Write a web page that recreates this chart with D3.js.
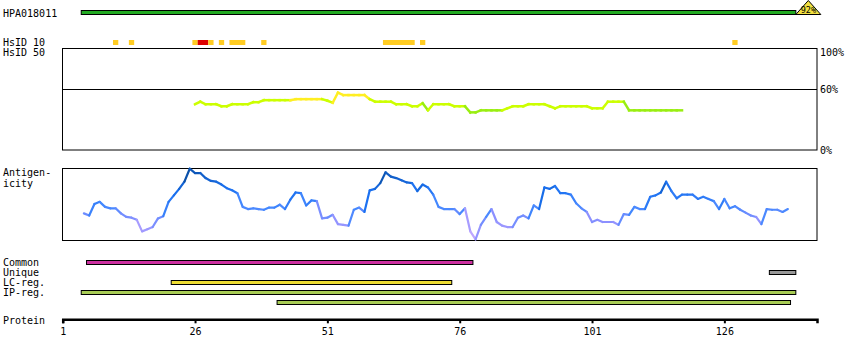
<!DOCTYPE html>
<html>
<head>
<meta charset="utf-8">
<script src="https://cdn.jsdelivr.net/npm/d3@7"></script>
<style>
  body { margin: 0; background: #fff; }
  text { font-family: "DejaVu Sans Mono", monospace; font-size: 10px; fill: #000; }
</style>
</head>
<body>
<svg id="chart" width="850" height="360"></svg>
<script>
// protein length and axis ticks
const proteinLength = 143;
const axisTicks = [1, 26, 51, 76, 101, 126];

// antibody target bar (residue span) and coverage
const antibodyName = "HPA018011";
const antibodySpan = [4.5, 139.5];
const antibodyCoverage = "92%";

// HsID 10 hits: [first residue, last residue, kind]
const hsid10Hits = [
    [11, 11, "low"], [14, 14, "low"], [26, 26, "low"], [27, 28, "high"],
    [29, 29, "low"], [31, 31, "low"], [33, 35, "low"], [39, 39, "low"],
    [62, 67, "low"], [69, 69, "low"], [128, 128, "low"]
];

// identity (%) per residue, starting at residue 26
const identityStart = 26;
const identityValues = [
    45, 47.5, 45, 45, 45, 43, 43, 45, 45, 45, 45,
    47, 47, 49, 49, 49, 49, 49, 49, 50, 50, 50, 50, 50, 50,
    48.5, 46.5, 56.4, 54, 54, 54, 54, 54, 50, 47.5, 47.5, 47.5, 47.5, 45, 45, 45,
    43, 43, 46, 39, 45, 45, 45, 45, 43, 43, 43, 37, 37, 39, 39, 39, 39, 39,
    41, 43, 43, 43, 45, 45, 45, 45, 43, 41, 43, 43, 43, 43, 43, 43, 41, 41, 41, 47.5, 47.5, 47.5, 47.5,
    39, 39, 39, 39, 39, 39, 39, 39, 39, 39, 39
];
const identityTicks = [0, 60, 100];

// antigenicity score (0-100) per residue, starting at residue 5
const antigenStart = 5;
const antigenValues = [
    37, 34, 50, 53, 46, 44, 44, 37, 32, 31, 28, 12, 15, 18, 30, 33, 53, 62, 71, 81,
    99, 93, 93, 86, 82, 81, 77, 72, 69, 65, 46, 43, 44,
    43, 42, 45, 45, 49, 43, 56, 66, 65, 48, 55, 54, 30, 31, 35, 22, 21, 20, 42, 45,
    39, 69, 71, 79, 94, 88, 86, 83, 80, 79, 68, 77, 73, 63, 46, 43,
    43, 43, 36, 44, 12, 1, 21, 32, 43, 25, 20, 18, 18, 31, 34, 30, 48, 43, 73, 71,
    75, 65, 65, 63, 51, 44, 39, 25, 28, 25, 25, 25, 21, 36, 35,
    46, 43, 43, 60, 62, 66, 81, 68, 58, 63, 63, 63, 57, 60, 57, 54, 43, 57, 44, 47,
    42, 38, 34, 32, 22, 43, 42, 42, 39, 43
];

// region tracks: label and spans
const trackLabels = ["Common", "Unique", "LC-reg.", "IP-reg."];
const trackSpans = [
    ["Common", 5.5, 78.5],
    ["Unique", 134.5, 139.5],
    ["LC-reg.", 21.5, 74.5],
    ["IP-reg.", 4.5, 139.5],
    ["IP-reg.2", 41.5, 138.5]
];

const svg = d3.select("#chart");
const x = d3.scaleLinear().domain([1, proteinLength + 0.5]).range([62.7, 817]);

drawAntibody();
drawHsid();
drawIdentity();
drawAntigenicity();
drawTracks();
drawProteinAxis();

function drawAntibody() {
    svg.append("text").attr("x", 3).attr("y", 16.5).text(antibodyName);
    svg.append("rect")
        .attr("x", x(antibodySpan[0])).attr("y", 10.5)
        .attr("width", x(antibodySpan[1]) - x(antibodySpan[0])).attr("height", 4)
        .attr("fill", "#22aa22").attr("stroke", "#000").attr("stroke-width", 1);
    const tx = x(antibodySpan[1]);
    svg.append("path")
        .attr("d", `M${tx},14.5L${tx + 12.5},0.5L${tx + 25},14.5Z`)
        .attr("fill", "#f2e040").attr("stroke", "#000").attr("stroke-width", 1);
    svg.append("text").attr("x", tx + 12.5).attr("y", 12.7)
        .attr("text-anchor", "middle").style("font-size", "8.5px")
        .text(antibodyCoverage);
}

function drawHsid() {
    svg.append("text").attr("x", 3).attr("y", 46).text("HsID 10");
    svg.append("text").attr("x", 3).attr("y", 56.3).text("HsID 50");
    svg.selectAll(".hit")
        .data(hsid10Hits)
        .enter()
        .append("rect")
        .attr("x", d => x(d[0] - 0.5))
        .attr("y", 40)
        .attr("width", d => x(d[1] + 0.5) - x(d[0] - 0.5))
        .attr("height", 5)
        .attr("fill", d => d[2] === "high" ? "#dd0000" : "#ffcc22");
}

function drawIdentity() {
    const y = d3.scaleLinear().domain([0, 100]).range([150, 48.3]);
    const g = svg.append("g");
    g.append("rect")
        .attr("x", 62.5).attr("y", 48.5)
        .attr("width", 754.5).attr("height", 101.5)
        .attr("fill", "none").attr("stroke", "#000").attr("stroke-width", 1);
    g.append("line")
        .attr("x1", 62.5).attr("x2", 817)
        .attr("y1", Math.round(y(60)) + 0.5).attr("y2", Math.round(y(60)) + 0.5)
        .attr("stroke", "#000").attr("stroke-width", 1);

    const color = v => v >= 50 ? "#ffee22" : (v >= 40 ? "#ccff00" : "#99ee11");
    const pts = identityValues.map((v, i) => [identityStart + i, v]);
    g.selectAll(".idseg")
        .data(pts.slice(1))
        .enter()
        .append("line")
        .attr("x1", (d, i) => x(pts[i][0])).attr("y1", (d, i) => y(pts[i][1]))
        .attr("x2", d => x(d[0])).attr("y2", d => y(d[1]))
        .attr("stroke", d => color(d[1]))
        .attr("stroke-width", 2.5)
        .attr("stroke-linecap", "square");

    const ax = g.append("g")
        .attr("transform", "translate(817,0)")
        .call(d3.axisRight(y).tickValues(identityTicks).tickSize(0).tickPadding(3).tickFormat(d => d + "%"));
    ax.select(".domain").remove();
    ax.selectAll("text")
        .style("font-family", "DejaVu Sans Mono").style("font-size", "10px")
        .attr("dy", d => d === 100 ? "0.75em" : "0.32em");
}

function drawAntigenicity() {
    svg.append("text").attr("x", 3).attr("y", 176.3).text("Antigen-");
    svg.append("text").attr("x", 3).attr("y", 187).text("icity");
    const y = d3.scaleLinear().domain([0, 100]).range([240, 168]);
    const color = d3.scaleLinear()
        .domain([0, 25, 45, 70, 100])
        .range(["#c0a8ff", "#8c90ff", "#4488ff", "#1a70f0", "#0a50a8"]);
    svg.append("rect")
        .attr("x", 62.5).attr("y", 168.5)
        .attr("width", 754.5).attr("height", 72)
        .attr("fill", "none").attr("stroke", "#000").attr("stroke-width", 1);
    const pts = antigenValues.map((v, i) => [antigenStart + i, v]);
    svg.selectAll(".agseg")
        .data(pts.slice(1))
        .enter()
        .append("line")
        .attr("x1", (d, i) => x(pts[i][0])).attr("y1", (d, i) => y(pts[i][1]))
        .attr("x2", d => x(d[0])).attr("y2", d => y(d[1]))
        .attr("stroke", d => color(d[1]))
        .attr("stroke-width", 2.2)
        .attr("stroke-linecap", "round");
}

function drawTracks() {
    const rowY = d3.scalePoint().domain(trackLabels.concat(["IP-reg.2"])).range([262.5, 302.5]);
    const colors = {"Common": "#cc2fa0", "Unique": "#999999", "LC-reg.": "#eedd33", "IP-reg.": "#a8cc55", "IP-reg.2": "#a8cc55"};
    svg.selectAll(".tlabel")
        .data(trackLabels)
        .enter()
        .append("text")
        .attr("x", 3).attr("y", d => rowY(d) + 3.8)
        .text(d => d);
    svg.selectAll(".tbar")
        .data(trackSpans)
        .enter()
        .append("rect")
        .attr("x", d => x(d[1])).attr("y", d => rowY(d[0]) - 2)
        .attr("width", d => x(d[2]) - x(d[1])).attr("height", 4)
        .attr("fill", d => colors[d[0]])
        .attr("stroke", "#000").attr("stroke-width", 1);
}

function drawProteinAxis() {
    svg.append("text").attr("x", 3).attr("y", 323.6).text("Protein");
    const ax = svg.append("g")
        .attr("transform", "translate(0,319.3)")
        .call(d3.axisBottom(x).tickValues(axisTicks).tickSize(4).tickSizeOuter(4).tickPadding(5).tickFormat(d3.format("d")));
    ax.select(".domain").attr("stroke-width", 2.5);
    ax.selectAll(".tick line").attr("stroke-width", 2);
    ax.selectAll("text").style("font-family", "DejaVu Sans Mono").style("font-size", "10px");
}
</script>
</body>
</html>
